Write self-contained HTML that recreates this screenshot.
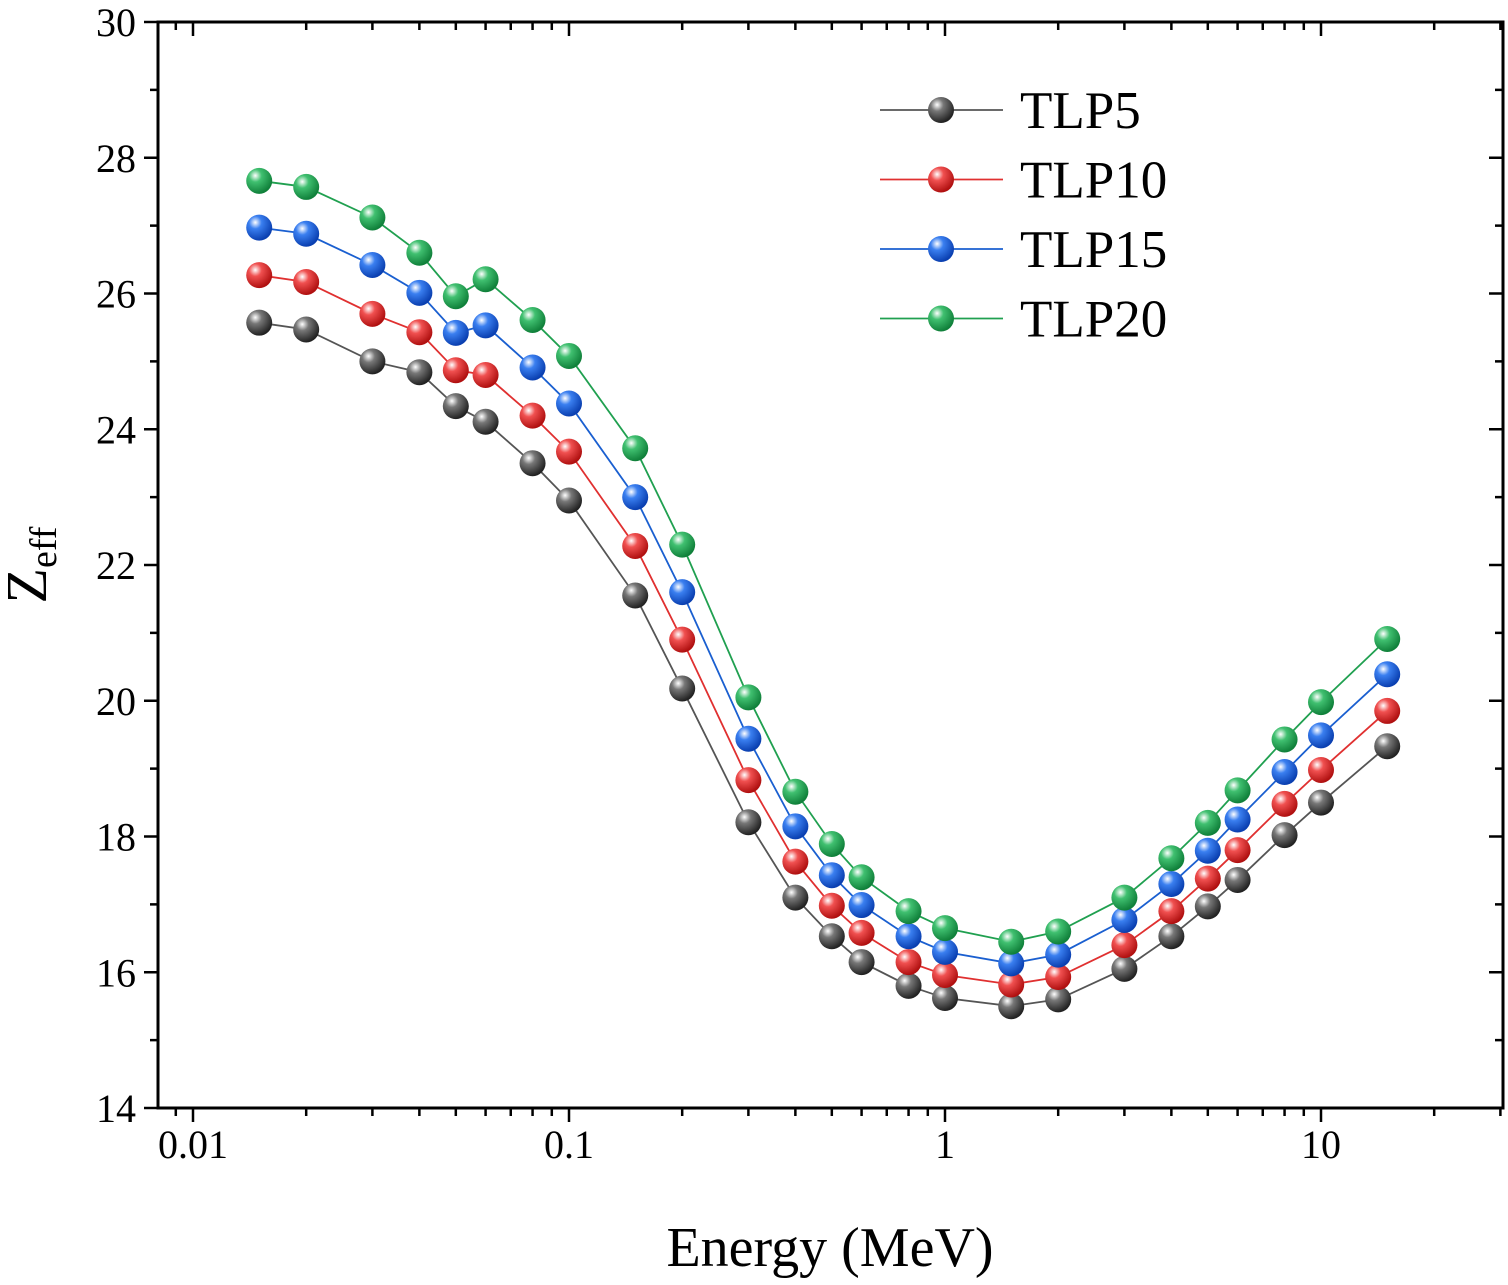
<!DOCTYPE html>
<html><head><meta charset="utf-8"><style>
html,body{margin:0;padding:0;background:#fff;}
svg{display:block;font-family:"Liberation Serif",serif;}
</style></head><body>
<svg id="chart" width="1508" height="1285" viewBox="0 0 1508 1285">
<defs>
<radialGradient id="g-black" cx="35%" cy="30%" r="70%"><stop offset="0" stop-color="#fff"/><stop offset="0.35" stop-color="#777"/><stop offset="1" stop-color="#222"/></radialGradient>
<radialGradient id="g-red" cx="35%" cy="30%" r="70%"><stop offset="0" stop-color="#fff"/><stop offset="0.35" stop-color="#f05050"/><stop offset="1" stop-color="#b01010"/></radialGradient>
<radialGradient id="g-blue" cx="35%" cy="30%" r="70%"><stop offset="0" stop-color="#fff"/><stop offset="0.35" stop-color="#3a7ff0"/><stop offset="1" stop-color="#0a3fb0"/></radialGradient>
<radialGradient id="g-green" cx="35%" cy="30%" r="70%"><stop offset="0" stop-color="#fff"/><stop offset="0.35" stop-color="#40c070"/><stop offset="1" stop-color="#10803a"/></radialGradient>
</defs>
<g id="axes"></g>
<g id="series"></g>
<g id="legend"></g>
</svg>
<script>
const energies=[0.015,0.02,0.03,0.04,0.05,0.06,0.08,0.1,0.15,0.2,0.3,0.4,0.5,0.6,0.8,1,1.5,2,3,4,5,6,8,10,15];
const tlp5=[25.57,25.47,25.0,24.84,24.34,24.11,23.5,22.95,21.55,20.18,18.21,17.1,16.53,16.15,15.8,15.62,15.5,15.6,16.05,16.53,16.97,17.36,18.02,18.5,19.33];
const tlp10=[26.27,26.17,25.7,25.43,24.87,24.8,24.2,23.67,22.28,20.9,18.83,17.63,16.98,16.58,16.15,15.96,15.82,15.93,16.4,16.9,17.38,17.8,18.48,18.98,19.85];
const tlp15=[26.97,26.88,26.42,26.01,25.42,25.53,24.91,24.38,23.0,21.6,19.44,18.15,17.43,16.99,16.53,16.3,16.13,16.26,16.77,17.3,17.79,18.25,18.95,19.49,20.39];
const tlp20=[27.66,27.57,27.12,26.6,25.96,26.21,25.61,25.08,23.72,22.3,20.05,18.66,17.89,17.4,16.9,16.65,16.45,16.6,17.1,17.68,18.2,18.68,19.43,19.98,20.91];
const seriesNames=["TLP5","TLP10","TLP15","TLP20"];
const xTickLabels=["0.01","0.1","1","10"];
const xTickValues=[0.01,0.1,1,10];
const yTickValues=[14,16,18,20,22,24,26,28,30];

const NS="http://www.w3.org/2000/svg";
const L=158,R=1503,T=22,B=1108;
const X0=193,DEC=376;
function xs(v){return X0+(Math.log10(v)+2)*DEC;}
function ys(v){return B-(v-14)*(B-T)/16;}
function mk(tag,attrs,parent){const e=document.createElementNS(NS,tag);for(const k in attrs)e.setAttribute(k,attrs[k]);parent.appendChild(e);return e;}
const axes=document.getElementById('axes');
const frame=mk('rect',{x:L,y:T,width:R-L,height:B-T,fill:'none',stroke:'#000','stroke-width':3},axes);


for(let v=14;v<=30;v++){
  const y=ys(v),major=v%2===0,len=major?14:8;
  mk('line',{x1:L-len,x2:L,y1:y,y2:y,stroke:'#000','stroke-width':2.5},axes);
  mk('line',{x1:R,x2:R-len,y1:y,y2:y,stroke:'#000','stroke-width':2.5},axes);
}
yTickValues.forEach(v=>{
  const t=mk('text',{x:L-22,y:ys(v)+14,'text-anchor':'end','font-size':40},axes);
  t.textContent=v;
  
  
});
for(let d=-3;d<=1;d++){
  for(let m=1;m<=9;m++){
    const v=m*Math.pow(10,d),x=xs(v);
    if(x<L||x>R)continue;
    const len=m===1?14:8;
    mk('line',{x1:x,x2:x,y1:B,y2:B+len,stroke:'#000','stroke-width':2.5},axes);
    mk('line',{x1:x,x2:x,y1:T,y2:T+len,stroke:'#000','stroke-width':2.5},axes);
  }
}
xTickValues.forEach((v,i)=>{
  const t=mk('text',{x:xs(v),y:B+50,'text-anchor':'middle','font-size':40},axes);
  t.textContent=xTickLabels[i];
  
  
});
const xt=mk('text',{x:830,y:1266,'text-anchor':'middle','font-size':56},axes);
xt.textContent='Energy (MeV)';


const yt=mk('text',{transform:'translate(46,565) rotate(-90)','text-anchor':'middle','font-size':58},axes);
yt.innerHTML='Z<tspan font-size="38" dy="10">eff</tspan>';



const data=[tlp5,tlp10,tlp15,tlp20];
const lineColors=['#555','#e03030','#1a5fd0','#20a050'];
const grads=['g-black','g-red','g-blue','g-green'];
const sg=document.getElementById('series');
data.forEach((vals,si)=>{
  const g=mk('g',{},sg);
  
  
  const pts=energies.map((e,i)=>xs(e)+','+ys(vals[i])).join(' ');
  mk('polyline',{points:pts,fill:'none',stroke:lineColors[si],'stroke-width':1.8},g);
  energies.forEach((e,i)=>{
    const c=mk('circle',{cx:xs(e),cy:ys(vals[i]),r:13,fill:'url(#'+grads[si]+')'},g);
    
    
  });
});
const lg=document.getElementById('legend');


seriesNames.forEach((n,i)=>{
  const y=110+i*69.5;
  const g=mk('g',{},lg);
  
  
  mk('line',{x1:880,x2:1003,y1:y,y2:y,stroke:lineColors[i],'stroke-width':1.8},g);
  mk('circle',{cx:941,cy:y,r:13,fill:'url(#'+grads[i]+')'},g);
  const t=mk('text',{x:1020,y:y+18,'font-size':53},g);
  t.textContent=n;
});
</script>
</body></html>
